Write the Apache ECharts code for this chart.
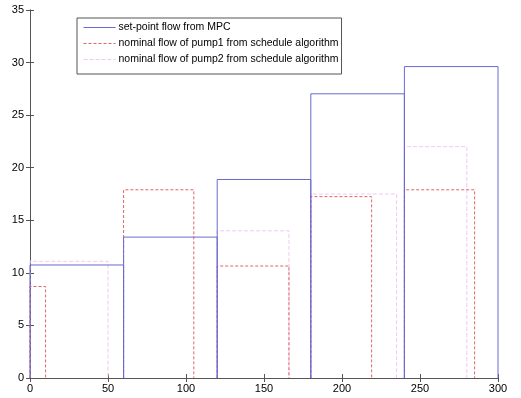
<!DOCTYPE html>
<html>
<head>
<meta charset="utf-8">
<script src="https://cdn.jsdelivr.net/npm/echarts@6/dist/echarts.min.js"></script>
<style>html,body{margin:0;padding:0;background:#fff;}#c{width:521px;height:398px;}</style>
</head>
<body>
<div id="c"></div>
<script>
const seriesNames = ['set-point flow from MPC', 'nominal flow of pump1 from schedule algorithm', 'nominal flow of pump2 from schedule algorithm'];
const xTicks = [0, 50, 100, 150, 200, 250, 300];
const yTicks = [0, 5, 10, 15, 20, 25, 30, 35];

const mpcStart = [0, 60, 120, 180, 240];
const mpcEnd = [60, 120, 180, 240, 300];
const mpcFlow = [10.75, 13.4, 18.88, 27.03, 29.62];

const pump1Start = [0, 60, 120, 180, 240];
const pump1End = [10, 105, 166, 219, 285];
const pump1Flow = [8.7, 17.9, 10.65, 17.25, 17.9];

const pump2Start = [0, 60, 120, 180, 240];
const pump2End = [50, 60, 166, 235, 280];
const pump2Flow = [11.1, null, 14.0, 17.5, 22.0];

function boxes(starts, ends, vals) {
  const out = [];
  for (let i = 0; i < starts.length; i++) {
    if (vals[i] == null) continue;
    out.push([starts[i], 0], [starts[i], vals[i]], [ends[i], vals[i]], [ends[i], 0]);
    out.push([ends[i], '-']);
  }
  return out;
}

const font = 'Liberation Sans, Arial, sans-serif';
const axisColor = '#555';
const chart = echarts.init(document.getElementById('c'));
const baseX = {min: xTicks[0], max: xTicks[xTicks.length-1], interval: 50};
const baseY = {min: yTicks[0], max: yTicks[yTicks.length-1], interval: 5};
chart.setOption({
  animation: false,
  backgroundColor: '#fff',
  grid: {left: 30, right: 23, top: 10, bottom: 20, show: false},
  legend: {
    data: seriesNames,
    orient: 'vertical', left: 77, top: 18,
    backgroundColor: '#fff', borderColor: '#555', borderWidth: 1,
    padding: [4, 3, 9, 6], itemGap: 5, itemWidth: 32, itemHeight: 11,
    itemStyle: {opacity: 0},
    lineStyle: {width: 1},
    textStyle: {fontFamily: font, fontSize: 10.5, color: '#000', padding: [0,0,0,-2]}
  },
  xAxis: [
    Object.assign({type: 'value', position: 'bottom',
      axisLine: {show: true, lineStyle: {color: axisColor}},
      axisTick: {show: true, inside: true, length: 4, lineStyle: {color: axisColor}},
      axisLabel: {color: '#000', fontFamily: font, fontSize: 11, margin: 5},
      splitLine: {show: false}}, baseX),
    Object.assign({type: 'value', position: 'top',
      axisLine: {show: true, lineStyle: {color: axisColor}},
      axisTick: {show: true, inside: true, length: 4, lineStyle: {color: axisColor}},
      axisLabel: {show: false}, splitLine: {show: false}}, baseX)
  ],
  yAxis: [
    Object.assign({type: 'value', position: 'left',
      axisLine: {show: true, lineStyle: {color: axisColor}},
      axisTick: {show: true, inside: true, length: 4, lineStyle: {color: axisColor}},
      axisLabel: {color: '#000', fontFamily: font, fontSize: 11, margin: 6},
      splitLine: {show: false}}, baseY),
    Object.assign({type: 'value', position: 'right',
      axisLine: {show: true, lineStyle: {color: axisColor}},
      axisTick: {show: true, inside: true, length: 4, lineStyle: {color: axisColor}},
      axisLabel: {show: false}, splitLine: {show: false}}, baseY)
  ],
  series: [
    {name: seriesNames[2], type: 'line', symbol: 'none', connectNulls: false,
     data: boxes(pump2Start, pump2End, pump2Flow),
     itemStyle: {color: '#f0c8f0'},
     lineStyle: {color: '#f0c8f0', width: 1, type: [4, 2]}},
    {name: seriesNames[1], type: 'line', symbol: 'none', connectNulls: false,
     data: boxes(pump1Start, pump1End, pump1Flow),
     itemStyle: {color: '#e06464'},
     lineStyle: {color: '#e06464', width: 1, type: [3, 2]}},
    {name: seriesNames[0], type: 'line', symbol: 'none', connectNulls: false,
     data: boxes(mpcStart, mpcEnd, mpcFlow),
     itemStyle: {color: '#6a6ad0'},
     lineStyle: {color: '#6a6ad0', width: 1}}
  ]
});
</script>
</body>
</html>
